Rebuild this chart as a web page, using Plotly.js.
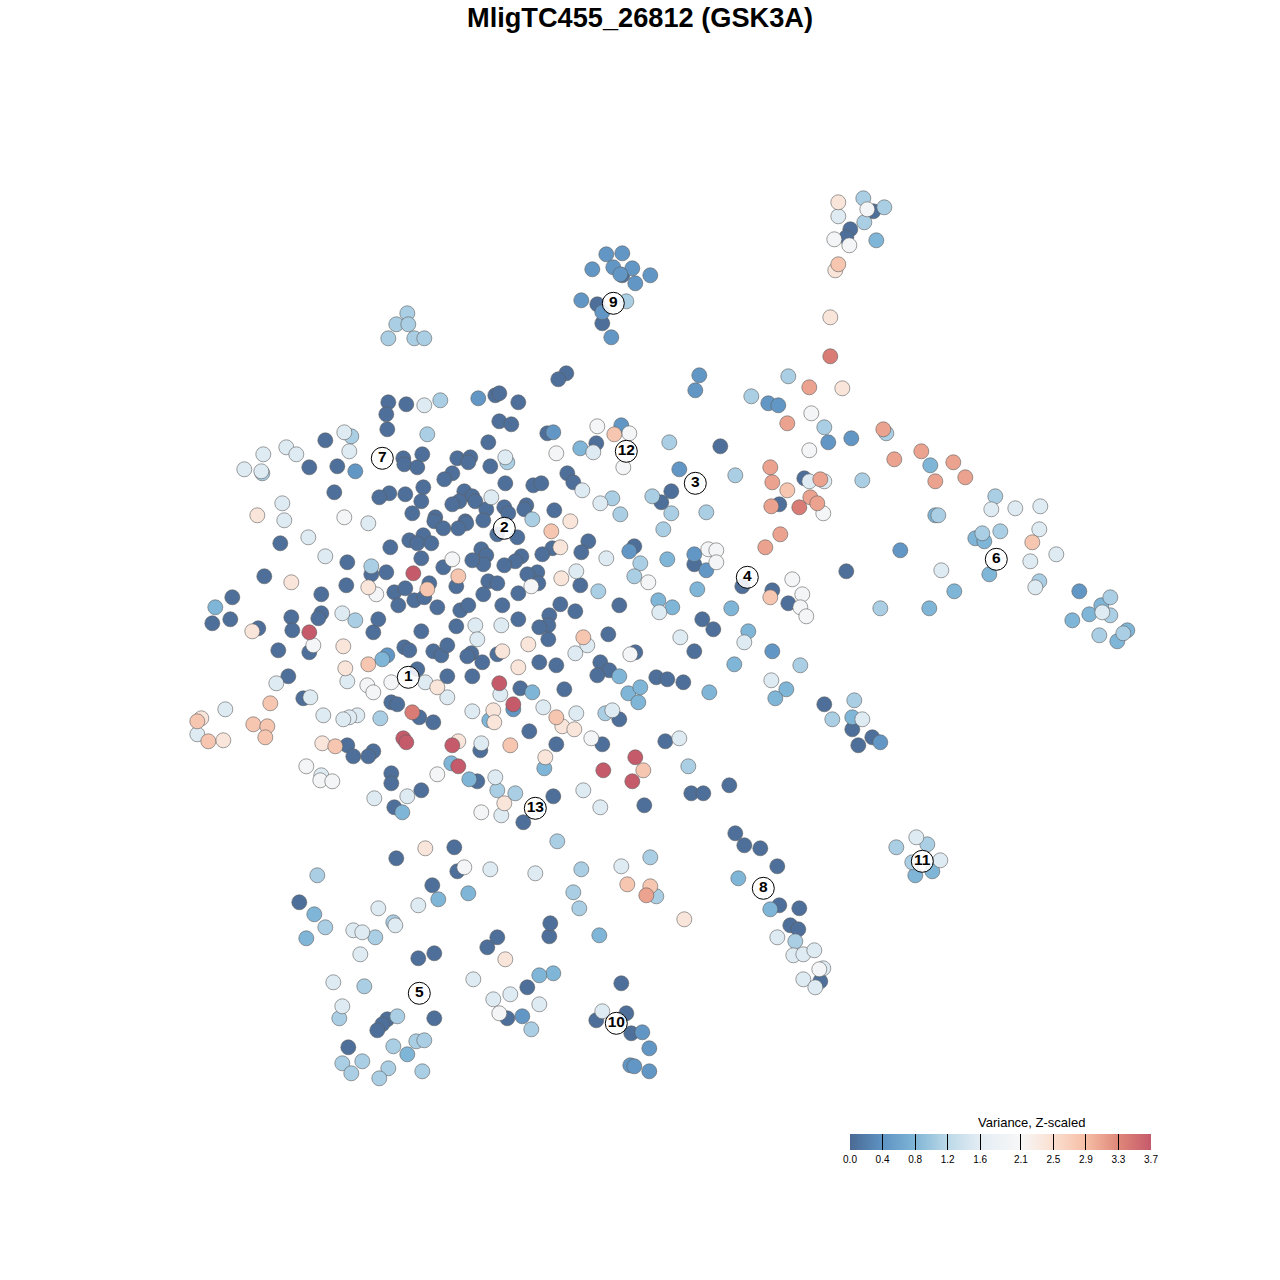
<!DOCTYPE html>
<html><head><meta charset="utf-8">
<script src="https://cdn.plot.ly/plotly-3.0.1.min.js"></script>
<style>html,body{margin:0;padding:0;background:#fff}</style></head><body>
<div id="chart" style="width:1280px;height:1280px"></div>
<script>
// tSNE-like positions grouped by read variance value
const v005=[[873,211],[850,229],[846,237],[804,478],[779,504],[671,491],[661,502],[720,446],[846,571],[694,564],[772,590],[742,586],[788,603],[702,619],[713,629],[694,651],[824,704],[852,729],[872,737],[858,745],[729,785],[691,793],[703,793],[644,805],[665,741],[735,833],[744,845],[760,848],[777,866],[779,905],[799,908],[790,925],[798,929],[820,981],[457,871],[454,847],[396,858],[432,885],[299,902],[434,953],[418,958],[497,937],[487,947],[549,936],[550,923],[527,987],[507,1018],[621,983],[626,1013],[596,1020],[631,1033],[387,1019],[382,1024],[377,1030],[434,1018],[348,1047],[597,304],[622,275],[602,323],[566,373],[558,379],[388,402],[406,404],[386,414],[495,395],[499,393],[518,402],[499,421],[511,424],[387,429],[547,433],[488,442],[596,443],[325,440],[309,467],[337,466],[403,458],[404,464],[417,467],[422,454],[457,458],[470,457],[468,462],[490,466],[452,473],[444,479],[505,483],[533,485],[541,483],[567,473],[573,482],[389,493],[379,497],[405,494],[423,487],[421,501],[412,513],[464,491],[472,496],[459,501],[452,504],[475,501],[486,509],[504,507],[508,513],[526,505],[524,509],[554,510],[483,520],[435,517],[434,521],[443,528],[465,521],[466,523],[458,528],[497,534],[517,537],[423,535],[409,540],[417,543],[431,543],[390,547],[421,558],[588,541],[552,548],[581,552],[542,554],[521,556],[515,561],[504,565],[481,549],[486,555],[483,564],[472,560],[443,567],[634,546],[580,585],[619,605],[537,572],[527,574],[538,583],[518,593],[488,581],[497,583],[483,594],[502,605],[456,586],[429,583],[386,572],[371,574],[347,562],[346,585],[394,592],[405,588],[414,600],[424,597],[398,605],[437,607],[460,610],[468,605],[560,604],[575,611],[549,615],[548,625],[539,627],[548,639],[518,619],[456,626],[421,631],[373,632],[378,619],[608,634],[635,652],[497,654],[471,653],[467,656],[433,651],[441,655],[447,645],[404,647],[409,650],[482,662],[539,662],[556,665],[600,662],[609,670],[597,675],[417,669],[447,676],[472,676],[391,702],[397,704],[419,717],[433,722],[520,688],[564,689],[529,731],[619,719],[602,744],[556,744],[480,750],[347,745],[353,756],[373,751],[368,756],[391,773],[391,783],[421,790],[394,807],[477,781],[523,822],[553,796],[334,492],[280,543],[264,576],[321,594],[232,597],[212,623],[230,619],[258,628],[291,617],[321,613],[318,618],[292,630],[278,650],[309,652],[288,676],[303,698],[656,677],[667,679],[683,682]];
const v045=[[606,254],[622,253],[592,269],[613,267],[632,268],[620,274],[650,275],[635,283],[581,300],[602,312],[611,337],[699,375],[695,390],[768,403],[778,405],[828,442],[851,438],[679,469],[900,550],[694,554],[706,570],[772,651],[880,742],[1079,591],[478,398],[553,432],[621,425],[355,471],[629,551],[387,655],[513,709],[649,1048],[630,1065],[634,1066],[649,1071],[642,1032],[522,1016]];
const v080=[[876,240],[930,465],[935,515],[975,538],[984,541],[989,574],[954,591],[929,608],[1101,605],[1089,614],[1072,620],[1127,630],[1117,641],[667,559],[731,608],[697,589],[658,600],[672,607],[748,631],[734,664],[786,689],[775,698],[709,692],[852,717],[738,878],[770,909],[915,875],[932,871],[468,893],[438,899],[314,914],[306,938],[599,935],[553,973],[539,975],[407,1054],[580,448],[382,659],[619,676],[628,693],[640,687],[638,702],[489,720],[544,768],[451,763],[469,779],[402,812],[215,607],[532,692]];
const v120=[[863,198],[884,207],[864,222],[626,301],[407,313],[396,324],[408,324],[388,338],[414,338],[424,338],[788,376],[751,396],[824,427],[886,433],[669,442],[735,475],[862,480],[652,496],[671,513],[706,512],[663,529],[995,496],[938,515],[982,533],[1000,531],[880,608],[1039,581],[1110,597],[1110,615],[1099,635],[1123,633],[800,665],[854,700],[832,719],[688,766],[795,941],[927,844],[896,847],[912,862],[557,841],[650,857],[581,869],[317,875],[325,927],[393,922],[375,937],[573,892],[579,908],[656,896],[531,1029],[364,986],[339,1018],[397,1016],[393,1046],[416,1041],[424,1040],[342,1063],[362,1061],[351,1073],[388,1068],[379,1078],[422,1071],[440,400],[427,434],[351,436],[507,462],[612,498],[620,514],[532,519],[640,563],[634,576],[598,591],[371,566],[355,620],[380,718],[605,713],[497,790],[515,793],[262,473]];
const v160=[[838,216],[809,481],[824,481],[991,509],[1015,508],[1040,506],[1039,529],[1056,554],[1030,561],[941,570],[1035,587],[1102,612],[659,612],[680,637],[744,642],[771,680],[862,719],[679,738],[777,937],[793,955],[803,954],[814,950],[823,968],[803,979],[815,987],[916,837],[940,860],[621,866],[535,873],[490,869],[418,905],[378,908],[395,925],[353,930],[362,932],[360,954],[473,979],[510,994],[493,999],[539,1004],[602,1011],[333,982],[342,1006],[424,405],[344,432],[349,451],[286,447],[296,454],[263,454],[244,469],[261,471],[505,457],[593,452],[582,490],[491,497],[600,503],[368,523],[282,503],[284,520],[308,537],[325,556],[606,558],[576,571],[342,613],[501,625],[475,625],[477,639],[587,645],[575,653],[347,681],[425,682],[447,697],[357,715],[349,717],[343,719],[472,711],[500,694],[543,707],[576,713],[612,710],[481,743],[495,777],[501,815],[407,796],[374,798],[583,790],[600,807],[276,683],[310,697],[323,715],[225,709],[197,734],[321,775]];
const v200=[[867,209],[834,239],[849,245],[811,413],[809,450],[823,513],[708,549],[716,550],[716,562],[802,594],[800,607],[806,616],[792,579],[499,1013],[464,867],[819,969],[597,426],[629,433],[556,453],[623,467],[344,517],[452,559],[648,582],[531,586],[376,594],[630,654],[367,685],[373,692],[391,682],[591,738],[437,774],[481,812],[313,645],[320,780],[332,781],[306,766]];
const v240=[[838,202],[835,270],[830,317],[842,388],[684,919],[425,848],[505,959],[257,515],[291,582],[252,631],[570,521],[560,547],[561,578],[368,587],[343,646],[528,644],[502,651],[345,668],[437,687],[518,667],[493,710],[494,722],[562,726],[574,729],[458,741],[545,757],[504,803],[223,740],[201,718],[322,743]];
const v280=[[838,264],[614,434],[787,490],[770,597],[1032,542],[627,884],[650,886],[551,531],[458,576],[427,589],[583,637],[368,664],[270,703],[197,721],[208,741],[253,724],[267,726],[265,737],[335,746],[556,717],[510,745],[643,770]];
const v310=[[809,387],[787,423],[883,429],[894,459],[921,451],[953,462],[965,477],[935,481],[770,467],[772,482],[810,497],[817,503],[771,506],[780,534],[765,547],[646,895],[820,479]];
const v340=[[830,356],[799,507],[412,712]];
const v370=[[413,573],[499,683],[513,704],[452,745],[403,738],[406,742],[458,766],[635,757],[603,770],[632,781],[309,632]];
const levelValues=[0.05,0.45,0.8,1.08,1.55,2.0,2.4,2.8,3.1,3.4,3.7];
const levels=[v005,v045,v080,v120,v160,v200,v240,v280,v310,v340,v370];
const clusterLabels=["1","2","3","4","5","6","7","8","9","10","11","12","13"];
const clusterX=[408,504,695,747,419,996,382,763,613,616,922,626,535];
const clusterY=[677,528,483,577,993,559,458,888,303,1023,861,451,808];
const tickVals=[0,0.4,0.8,1.2,1.6,2.1,2.5,2.9,3.3,3.7];
const tickText=["0.0","0.4","0.8","1.2","1.6","2.1","2.5","2.9","3.3","3.7"];
const colorStops=["#4a6a94","#5e93c3","#7fb5d6","#bcd9e8","#e4edf4","#f7f7f7","#fbdfd0","#f6bea5","#df8779","#c55a6b"];

const xs=[],ys=[],vs=[];
levels.forEach((pts,i)=>pts.forEach(p=>{xs.push(p[0]);ys.push(p[1]);vs.push(levelValues[i]);}));
const colorscale=colorStops.map((c,i)=>[tickVals[i]/3.7,c]);
const F="Liberation Sans, Arial, sans-serif";
const traces=[{
  type:"scatter",mode:"markers",x:xs,y:ys,hoverinfo:"skip",
  marker:{size:15,color:vs,cmin:0,cmax:3.7,colorscale:colorscale,
    line:{color:"rgba(95,95,95,0.6)",width:1},
    colorbar:{orientation:"h",x:850/1280,xanchor:"left",y:1-1134/1280,yanchor:"top",ypad:0,xpad:0,
      len:301/1280,lenmode:"fraction",thickness:16,thicknessmode:"pixels",
      outlinecolor:"rgba(0,0,0,0)",outlinewidth:0,tickmode:"array",tickvals:tickVals,ticktext:tickText,
      ticks:"inside",ticklen:16,tickcolor:"#000",tickwidth:1,
      tickfont:{family:F,size:10,color:"#000"}}}
},{
  type:"scatter",mode:"markers+text",x:clusterX,y:clusterY,text:clusterLabels,textposition:"middle center",
  hoverinfo:"skip",textfont:{family:F,size:15.5,color:"#000",weight:"bold"},
  marker:{size:22,color:"rgba(255,255,255,0.88)",line:{color:"#000",width:1}}
}];
const endTick=px=>({type:"line",xref:"paper",yref:"paper",x0:px/1280,x1:px/1280,y0:1-1134/1280,y1:1-1150/1280,line:{color:"#000",width:1}});
const layout={
  width:1280,height:1280,margin:{l:0,r:0,t:0,b:0},paper_bgcolor:"#fff",plot_bgcolor:"#fff",showlegend:false,
  title:{text:"<b>MligTC455_26812 (GSK3A)</b>",font:{family:F,size:27.2,color:"#000"},x:0.5,xanchor:"center",y:1-17/1280,yanchor:"middle"},
  xaxis:{range:[-0.3,1279.7],visible:false,fixedrange:true},
  yaxis:{range:[1279.7,-0.3],visible:false,fixedrange:true},
  shapes:[endTick(850.5),endTick(1150.5)],
  annotations:[{text:"Variance, Z-scaled",xref:"paper",yref:"paper",x:1031/1280,y:1-1122.5/1280,xanchor:"center",yanchor:"middle",showarrow:false,font:{family:F,size:13,color:"#000"}}]
};
Plotly.newPlot("chart",traces,layout,{displayModeBar:false,staticPlot:true});
</script></body></html>
